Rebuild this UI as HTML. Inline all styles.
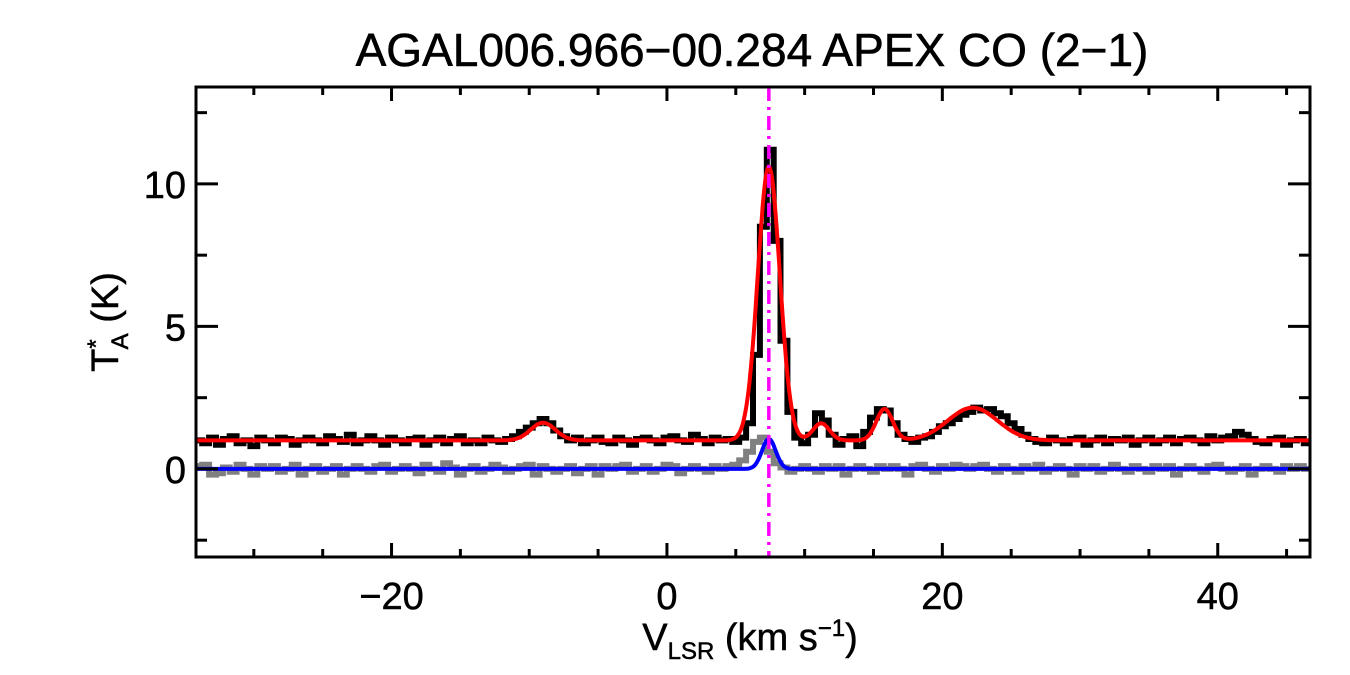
<!DOCTYPE html>
<html><head><meta charset="utf-8"><style>
html,body{margin:0;padding:0;background:#fff;}
svg{display:block;font-family:"Liberation Sans",sans-serif;}
</style></head><body>
<svg id="chart" width="1350" height="675" viewBox="0 0 1350 675">
<text x="752" y="66" font-size="46" text-anchor="middle" stroke="#000" stroke-width="0.6">AGAL006.966−00.284  APEX CO (2−1)</text>
<g id="plot"></g>
<rect x="196" y="87" width="1114" height="470" fill="none" stroke="#000" stroke-width="3"/>
<g id="axes"></g>
<text x="750" y="650" font-size="38" text-anchor="middle" stroke="#000" stroke-width="0.5">V<tspan font-size="24" dy="9">LSR</tspan><tspan dy="-9"> (km s</tspan><tspan font-size="24" dy="-14">−1</tspan><tspan dy="14">)</tspan></text>
<text transform="translate(118,322) rotate(-90)" font-size="38" text-anchor="middle" stroke="#000" stroke-width="0.5">T<tspan font-size="24" dy="-14">*</tspan><tspan font-size="24" dx="-10" dy="24">A</tspan><tspan dy="-10"> (K)</tspan></text>
</svg>
<script>
const xStart = -34, xStep = 0.5;
const blackSpec = [
1.0,0.9,1.1,0.85,1.05,1.15,0.9,1.0,0.8,1.1,1.0,0.9,1.1,1.05,0.85,1.0,1.1,1.0,0.9,1.15,
1.05,0.95,1.2,0.9,1.0,1.15,1.0,0.85,1.1,1.0,0.9,1.05,1.1,0.85,1.0,1.1,0.9,1.05,1.15,0.9,
1.0,0.9,1.1,1.0,0.95,1.05,1.15,1.3,1.45,1.6,1.75,1.6,1.35,1.15,1.0,1.1,0.9,1.0,1.1,0.95,
0.9,1.1,1.0,0.85,1.05,1.1,1.0,0.9,1.1,1.15,1.0,0.95,1.2,1.05,0.9,1.1,1.0,1.05,0.95,1.1,
1.6,4.0,8.5,11.2,8.0,4.5,2.0,1.1,0.9,1.2,1.95,1.7,1.2,0.85,1.05,1.15,0.8,1.3,1.8,2.1,
2.05,1.6,1.2,1.05,0.95,1.1,1.15,1.3,1.5,1.6,1.75,1.9,2.0,2.15,2.05,2.1,1.95,1.85,1.6,1.4,
1.2,1.05,0.95,0.9,1.1,1.0,0.9,1.05,1.1,0.85,1.0,1.1,0.9,1.05,1.0,1.1,0.85,1.0,1.1,0.9,
1.0,1.1,0.9,1.05,1.1,1.0,0.9,1.15,1.0,1.1,1.15,1.3,1.2,1.05,0.95,0.9,1.05,1.1,0.85,1.0,1.05,0.9];
const graySpec = [
0.1,0.15,-0.2,-0.15,0.05,-0.1,0.15,0.0,-0.2,0.1,0.0,0.1,-0.1,0.0,0.15,-0.2,0.0,0.1,-0.1,0.0,
0.1,-0.2,0.0,0.1,0.0,-0.1,0.1,0.15,-0.1,0.0,0.1,0.0,-0.15,0.15,0.0,-0.1,0.2,0.05,-0.2,0.0,
0.1,-0.1,0.0,0.15,0.05,-0.1,0.0,0.1,0.15,-0.2,0.1,0.0,-0.1,0.0,0.1,-0.15,0.0,0.1,-0.2,0.1,
0.0,0.1,0.15,-0.1,0.0,0.1,-0.1,0.0,0.15,0.1,-0.15,0.0,0.1,0.0,-0.1,0.1,0.0,0.1,0.15,0.3,
0.6,0.95,1.1,0.6,0.2,0.05,-0.1,0.0,0.1,0.0,-0.1,0.1,0.0,0.1,-0.2,0.0,0.1,0.0,-0.1,0.1,
0.0,0.1,0.0,-0.2,0.1,0.15,0.0,-0.1,0.1,0.0,0.15,0.1,0.0,0.1,0.15,0.0,-0.1,0.1,0.0,-0.1,
0.1,0.0,0.15,-0.1,0.0,0.1,0.0,-0.2,0.1,0.0,0.1,-0.1,0.0,0.15,0.0,-0.1,0.1,0.0,-0.1,0.1,
0.0,0.1,-0.2,0.0,0.1,0.0,-0.1,0.1,0.15,0.0,-0.1,0.0,0.1,-0.2,0.0,0.1,0.0,-0.1,0.1,0.0,0.1,0.0];
const redBaseline = 1.0;
const redCenters = [7.4, -9.0, 11.2, 15.8, 22.2];
const redAmps = [9.6, 0.62, 0.6, 1.1, 1.15];
const redSigmas = [0.8, 0.9, 0.6, 0.6, 1.8];
const blueCenters = [7.4];
const blueAmps = [1.05];
const blueSigmas = [0.5];
const vlsr = 7.4;
const xTicks = [-20, 0, 20, 40];
const xTickLabels = ["−20", "0", "20", "40"];
const yTicks = [0, 5, 10];
const yTickLabels = ["0", "5", "10"];

const X0 = 196, X1 = 1310, Y0 = 557, Y1 = 87;
const xMin = -34.2, xMax = 46.7, yMin = -3.09, yMax = 13.4;
const sx = v => X0 + (v - xMin) / (xMax - xMin) * (X1 - X0);
const sy = v => Y0 - (v - yMin) / (yMax - yMin) * (Y0 - Y1);
const NS = "http://www.w3.org/2000/svg";
const plot = document.getElementById('plot');
const axes = document.getElementById('axes');
function mk(tag, attrs, parent) {
  const e = document.createElementNS(NS, tag);
  for (const k in attrs) e.setAttribute(k, attrs[k]);
  parent.appendChild(e);
  return e;
}
function stepPath(arr) {
  let d = '';
  arr.forEach((v, i) => {
    const c = xStart + i * xStep;
    const xa = sx(Math.max(c - xStep / 2, xMin)), xb = sx(Math.min(c + xStep / 2, xMax));
    d += (i === 0 ? 'M' : 'L') + xa.toFixed(1) + ',' + sy(v).toFixed(1) + 'L' + xb.toFixed(1) + ',' + sy(v).toFixed(1);
  });
  return d;
}
function model(base, cs, as, ss) {
  let d = '';
  for (let x = xMin; x <= xMax; x += 0.05) {
    let y = base;
    cs.forEach((c, k) => { y += as[k] * Math.exp(-0.5 * ((x - c) / ss[k]) ** 2); });
    d += (d ? 'L' : 'M') + sx(x).toFixed(1) + ',' + sy(y).toFixed(1);
  }
  return d;
}
const g1 = mk('path', {d: stepPath(graySpec), fill: 'none', stroke: '#808080', 'stroke-width': 6}, plot);


const b1 = mk('path', {d: stepPath(blackSpec), fill: 'none', stroke: '#000', 'stroke-width': 6}, plot);


const r1 = mk('path', {d: model(redBaseline, redCenters, redAmps, redSigmas), fill: 'none', stroke: '#f00', 'stroke-width': 4}, plot);


const bl = mk('path', {d: model(0, blueCenters, blueAmps, blueSigmas), fill: 'none', stroke: '#0000ff', 'stroke-width': 4}, plot);


const vl = mk('line', {x1: sx(vlsr), x2: sx(vlsr), y1: Y1, y2: Y0, stroke: '#ff00ff', 'stroke-width': 3.5, 'stroke-dasharray': '14,6,3,6'}, plot);


for (let v = -30; v <= 45; v += 5) {
  const major = v % 20 === 0;
  const L = major ? 14 : 8;
  mk('line', {x1: sx(v), x2: sx(v), y1: Y0, y2: Y0 - L, stroke: '#000', 'stroke-width': 3}, axes);
  mk('line', {x1: sx(v), x2: sx(v), y1: Y1, y2: Y1 + L, stroke: '#000', 'stroke-width': 3}, axes);
}
for (let v = -2.5; v <= 12.5; v += 2.5) {
  const major = Math.abs(v % 5) < 1e-9;
  const L = major ? 22 : 11;
  mk('line', {x1: X0, x2: X0 + L, y1: sy(v), y2: sy(v), stroke: '#000', 'stroke-width': 3}, axes);
  mk('line', {x1: X1, x2: X1 - L, y1: sy(v), y2: sy(v), stroke: '#000', 'stroke-width': 3}, axes);
}
xTicks.forEach((v, i) => {
  const t = mk('text', {x: sx(v), y: 609, 'font-size': 38, 'text-anchor': 'middle', stroke: '#000', 'stroke-width': 0.5}, axes);
  t.textContent = xTickLabels[i];
  
  
});
yTicks.forEach((v, i) => {
  const t = mk('text', {x: 186, y: sy(v) + 14, 'font-size': 38, 'text-anchor': 'end', stroke: '#000', 'stroke-width': 0.5}, axes);
  t.textContent = yTickLabels[i];
  
  
});
</script>
</body></html>
